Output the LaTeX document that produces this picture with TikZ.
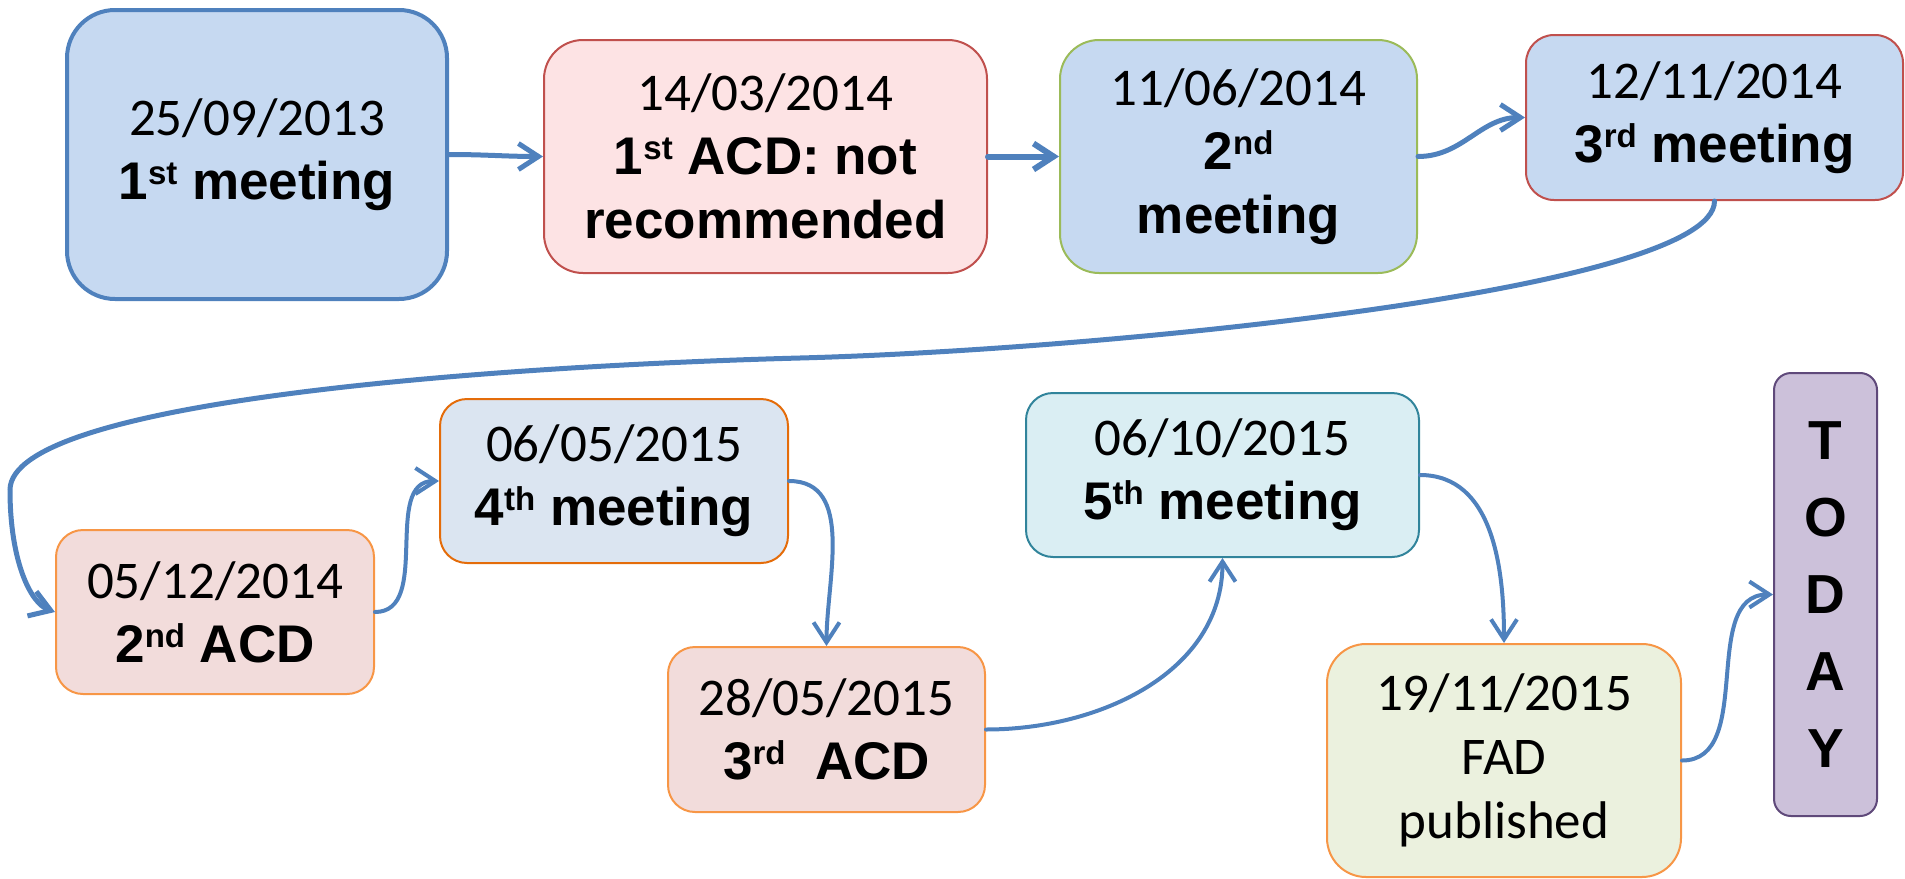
\documentclass[tikz,border=0pt]{standalone}
\usepackage{fontspec}
\setmainfont{Carlito}
\newfontfamily\arl{Liberation Sans}
\usetikzlibrary{arrows.meta}
\definecolor{arrowblue}{HTML}{4F81BD}
\definecolor{meetfill}{HTML}{C6D9F1}
\definecolor{acdfill}{HTML}{FDE3E4}
\definecolor{rosefill}{HTML}{F2DCDB}
\definecolor{paleblue}{HTML}{DBE5F1}
\definecolor{aquafill}{HTML}{DAEEF3}
\definecolor{olivefill}{HTML}{EBF1DE}
\definecolor{lilacfill}{HTML}{CCC1DA}
\definecolor{redline}{HTML}{C0504D}
\definecolor{greenline}{HTML}{9BBB59}
\definecolor{orangeline}{HTML}{F79646}
\definecolor{darkorange}{HTML}{E46C0A}
\definecolor{tealline}{HTML}{31849B}
\definecolor{purpleline}{HTML}{5F497A}
\newcommand{\datefont}{\fontsize{53}{64}\selectfont}
\newcommand{\bl}[1]{{\arl\bfseries\fontsize{53}{64}\selectfont #1}}
\newcommand{\sups}[1]{\raisebox{15pt}{\fontsize{33}{33}\selectfont #1}}
\tikzset{
  evbox/.style 2 args={rectangle, draw=#1, fill=#2, line width=2pt,
               inner sep=0pt, align=center, font=\datefont},
  arr/.style={-{Straight Barb[length=20pt, width=26pt]}, line width=#1,
              draw=arrowblue, line cap=round},
  arr/.default=5pt,
}

\begin{document}
\begin{tikzpicture}[x=1pt, y=-1pt]
  \useasboundingbox (0,0) rectangle (1905,878);
  % top row
  \node[evbox={arrowblue}{meetfill}, line width=4pt, rounded corners=48pt,
        minimum width=380pt, minimum height=289pt]
    (m1) at (257,154.5) {25/09/2013\\\bl{1\sups{st} meeting}};
  \node[evbox={redline}{acdfill}, rounded corners=39pt,
        minimum width=443pt, minimum height=233pt]
    (acd1) at (765.5,156.5) {14/03/2014\\\bl{1\sups{st} ACD: not}\\\bl{recommended}};
  \node[evbox={greenline}{meetfill}, rounded corners=39pt,
        minimum width=357pt, minimum height=233pt]
    (m2) at (1238.5,156.5) {11/06/2014\\\bl{2\sups{nd}}\\\bl{meeting}};
  \node[evbox={redline}{meetfill}, rounded corners=28pt,
        minimum width=377pt, minimum height=165pt]
    (m3) at (1714.5,117.5) {12/11/2014\\\bl{3\sups{rd} meeting}};
  % bottom row
  \node[evbox={orangeline}{rosefill}, rounded corners=27pt,
        minimum width=318pt, minimum height=164pt]
    (acd2) at (215,612) {05/12/2014\\\bl{2\sups{nd} ACD}};
  \node[evbox={darkorange}{paleblue}, rounded corners=27pt,
        minimum width=348pt, minimum height=164pt]
    (m4) at (614,481) {06/05/2015\\\bl{4\sups{th} meeting}};
  \node[evbox={orangeline}{rosefill}, rounded corners=27pt,
        minimum width=317pt, minimum height=165pt]
    (acd3) at (826.5,729.5) {28/05/2015\\\bl{3\sups{rd}\ \ ACD}};
  \node[evbox={tealline}{aquafill}, rounded corners=27pt,
        minimum width=393pt, minimum height=164pt]
    (m5) at (1222.5,475) {06/10/2015\\\bl{5\sups{th} meeting}};
  \node[evbox={orangeline}{olivefill}, rounded corners=39pt,
        minimum width=354pt, minimum height=233pt]
    (fad) at (1504,760.5) {19/11/2015\\FAD\\published};
  \node[evbox={purpleline}{lilacfill}, rounded corners=17pt,
        minimum width=103pt, minimum height=443pt,
        font={\arl\bfseries\fontsize{55}{77}\selectfont}]
    (today) at (1825.5,594.5) {T\\O\\D\\A\\Y};
  % connectors
  \draw[arr] (m1.east) to[out=0, in=180] (acd1.west);
  \draw[arr=6pt] (acd1.east) -- (m2.west);
  \draw[arr] (m2.east) to[out=0, in=180] (m3.west);
  \draw[arr] (m3.south) .. controls (1714.5,290) and (1100,350) .. (800,358)
    .. controls (500,366) and (10,400) .. (10,490)
    .. controls (10,560) and (30,603) .. (acd2.west);
  \draw[arr=4pt] (acd2.east) to[out=0, in=180] (m4.west);
  \draw[arr=4pt] (m4.east) to[out=0, in=90] (acd3.north);
  \draw[arr=4pt] (acd3.east) to[out=0, in=-90] (m5.south);
  \draw[arr=4pt] (m5.east) to[out=0, in=90] (fad.north);
  \draw[arr=4pt] (fad.east) to[out=0, in=180] (today.west);
\end{tikzpicture}
\end{document}
